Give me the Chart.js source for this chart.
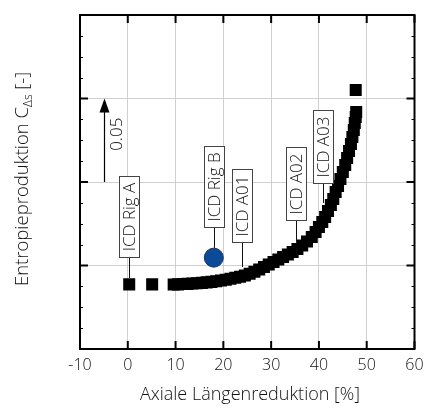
<!DOCTYPE html>
<html>
<head>
<meta charset="utf-8">
<script src="https://cdn.jsdelivr.net/npm/chart.js@4"></script>
<style>
  html, body { margin: 0; padding: 0; background: #fff; }
</style>
</head>
<body>
<canvas id="myChart" width="425" height="412"></canvas>
<script>
"use strict";

// Varianten: axiale Längenreduktion [%] und Entropieproduktion C_Δs
const variantX = [
	0.3, 5.1,
	9.6, 10.5, 11.5, 12.5, 13.5, 14.5, 15.5, 16.5, 17.5, 18.5,
	19.5, 20.5, 21.5, 22.5, 23.5, 24.5, 25.5, 26.5, 27.5, 28.5,
	29.5, 30.5, 31.5, 32.5, 33.5, 34.5, 35.5, 36.5, 37.5, 38.5,
	39.3, 40, 40.7, 41.3, 41.9, 42.5, 43, 43.5, 44, 44.5,
	45, 45.5, 45.9, 46.3, 46.7, 47, 47.3, 47.5, 47.7, 47.8,
	47.7
];
const variantCds = [
	0.0387, 0.0387,
	0.0386, 0.0387, 0.0389, 0.0390, 0.0392, 0.0394, 0.0396, 0.0399, 0.0402, 0.0406,
	0.0410, 0.0415, 0.0420, 0.0426, 0.0432, 0.0440, 0.0450, 0.0462, 0.0476, 0.0491,
	0.0506, 0.0521, 0.0536, 0.0551, 0.0566, 0.0581, 0.0599, 0.0620, 0.0644, 0.0671,
	0.0701, 0.0731, 0.0760, 0.0790, 0.0826, 0.0862, 0.0898, 0.0940, 0.0976, 0.1018,
	0.1060, 0.1102, 0.1144, 0.1186, 0.1228, 0.1269, 0.1311, 0.1353, 0.1389, 0.1419,
	0.1551
];

// ICD Rig B
const rigBX = [18];
const rigBCds = [0.0547];

// Achsen
const xTicks = [-10, 0, 10, 20, 30, 40, 50, 60];
const yTicks = [0, 0.05, 0.1, 0.15, 0.2];

// Beschriftete Konfigurationen
const calloutNames = ["ICD Rig A", "ICD Rig B", "ICD A01", "ICD A02", "ICD A03"];
const calloutX = [0.3, 18, 24, 35.1, 40.9];
const calloutLineEnd = [0.0425, 0.0605, 0.0491, 0.0643, 0.0874];
const calloutBoxBottom = [0.0553, 0.0729, 0.0639, 0.0772, 0.0996];

// Maßpfeil für den Gitterabstand
const scaleBarX = -5;
const scaleBarFrom = 0.1;
const scaleBarTo = 0.15;

const FONT = "'Open Sans', 'Noto Sans', sans-serif";
const TEXT = "#111";
const W = "300 ";

const callouts = {
	id: "callouts",
	afterDatasetsDraw(chart) {
		const { ctx, scales: { x, y } } = chart;
		ctx.save();
		ctx.font = W + "17px " + FONT;
		calloutNames.forEach(function (name, i) {
			const px = Math.round(x.getPixelForValue(calloutX[i])) + 0.5;
			const yEnd = y.getPixelForValue(calloutLineEnd[i]);
			const yBox = Math.round(y.getPixelForValue(calloutBoxBottom[i])) + 0.5;
			const h = Math.round(ctx.measureText(name).width + 12);

			ctx.strokeStyle = "#111";
			ctx.lineWidth = 1;
			ctx.beginPath();
			ctx.moveTo(px, yBox);
			ctx.lineTo(px, yEnd);
			ctx.stroke();

			ctx.fillStyle = "#fff";
			ctx.fillRect(px - 10, yBox - h, 20, h);
			ctx.strokeStyle = "#444";
			ctx.strokeRect(px - 10, yBox - h, 20, h);

			ctx.save();
			ctx.translate(px, yBox - h / 2);
			ctx.rotate(-Math.PI / 2);
			ctx.fillStyle = TEXT;
			ctx.textAlign = "center";
			ctx.textBaseline = "middle";
			ctx.fillText(name, 0, 1);
			ctx.restore();
		});

		// Pfeil 0.05
		const ax = Math.round(x.getPixelForValue(scaleBarX)) + 0.5;
		const y0 = y.getPixelForValue(scaleBarFrom);
		const y1 = y.getPixelForValue(scaleBarTo);
		ctx.strokeStyle = "#000";
		ctx.lineWidth = 1.2;
		ctx.beginPath();
		ctx.moveTo(ax, y0);
		ctx.lineTo(ax, y1 + 12);
		ctx.stroke();
		ctx.fillStyle = "#000";
		ctx.beginPath();
		ctx.moveTo(ax, y1);
		ctx.lineTo(ax - 5, y1 + 14);
		ctx.lineTo(ax + 5, y1 + 14);
		ctx.closePath();
		ctx.fill();

		ctx.save();
		ctx.translate(ax + 17, (y0 + y1) / 2 - 6);
		ctx.rotate(-Math.PI / 2);
		ctx.fillStyle = TEXT;
		ctx.textAlign = "center";
		ctx.textBaseline = "alphabetic";
		ctx.fillText((scaleBarTo - scaleBarFrom).toFixed(2), 0, 0);
		ctx.restore();
		ctx.restore();
	}
};

const frame = {
	id: "frame",
	afterDraw(chart) {
		const { ctx, chartArea: a, scales: { x, y } } = chart;
		ctx.save();
		ctx.strokeStyle = "#000";
		ctx.lineWidth = 2;
		ctx.strokeRect(a.left, a.top, a.right - a.left, a.bottom - a.top);

		ctx.beginPath();
		xTicks.forEach(function (v) {
			const px = x.getPixelForValue(v);
			ctx.moveTo(px, a.bottom);
			ctx.lineTo(px, a.bottom - 8);
			ctx.moveTo(px, a.top);
			ctx.lineTo(px, a.top + 8);
		});
		yTicks.forEach(function (v) {
			const py = y.getPixelForValue(v);
			ctx.moveTo(a.left, py);
			ctx.lineTo(a.left + 8, py);
			ctx.moveTo(a.right, py);
			ctx.lineTo(a.right - 8, py);
		});
		ctx.stroke();

		// Nebenteilung der y-Achse
		ctx.lineWidth = 1;
		ctx.beginPath();
		for (let i = 0; i < yTicks.length - 1; i++) {
			for (let k = 1; k < 4; k++) {
				const v = yTicks[i] + (yTicks[i + 1] - yTicks[i]) * k / 4;
				const py = Math.round(y.getPixelForValue(v)) + 0.5;
				ctx.moveTo(a.left, py);
				ctx.lineTo(a.left + 3, py);
				ctx.moveTo(a.right, py);
				ctx.lineTo(a.right - 3, py);
			}
		}
		ctx.stroke();

		// Achsentitel
		ctx.fillStyle = TEXT;
		ctx.font = W + "18px " + FONT;
		ctx.textAlign = "center";
		ctx.textBaseline = "alphabetic";
		ctx.fillText("Axiale Längenreduktion [%]", 250, 400);

		const main = "Entropieproduktion C";
		const sub = "Δs";
		const tail = " [-]";
		ctx.font = W + "18.5px " + FONT;
		const wMain = ctx.measureText(main).width;
		const wTail = ctx.measureText(tail).width;
		ctx.font = W + "12px " + FONT;
		const wSub = ctx.measureText(sub).width;
		const total = wMain + wSub + wTail;

		ctx.save();
		ctx.translate(28, 179);
		ctx.rotate(-Math.PI / 2);
		ctx.textAlign = "left";
		let cx = -total / 2;
		ctx.font = W + "18.5px " + FONT;
		ctx.fillText(main, cx, 0);
		cx += wMain;
		ctx.font = W + "12px " + FONT;
		ctx.fillText(sub, cx, 4);
		cx += wSub;
		ctx.font = W + "18.5px " + FONT;
		ctx.fillText(tail, cx, 0);
		ctx.restore();
		ctx.restore();
	}
};

function toPoints(xs, ys) {
	return xs.map(function (v, i) {
		return { x: v, y: ys[i] };
	});
}

const ctx = document.getElementById("myChart");

new Chart(ctx, {
	type: "scatter",
	data: {
		datasets: [
			{
				label: "Varianten",
				data: toPoints(variantX, variantCds),
				pointStyle: "rect",
				pointRadius: 8.5,
				borderWidth: 0,
				backgroundColor: "#000",
			},
			{
				label: "ICD Rig B",
				data: toPoints(rigBX, rigBCds),
				pointStyle: "circle",
				pointRadius: 9.5,
				borderWidth: 1,
				borderColor: "#18305a",
				backgroundColor: "#0b4a98",
			},
		],
	},
	options: {
		responsive: false,
		animation: false,
		devicePixelRatio: 1,
		layout: { padding: { left: 0, right: 10, top: 15, bottom: 0 } },
		plugins: {
			legend: { display: false },
			tooltip: { enabled: false },
		},
		scales: {
			x: {
				type: "linear",
				min: -10,
				max: 60,
				afterBuildTicks: function (s) {
					s.ticks = xTicks.map(function (v) { return { value: v }; });
				},
				afterFit: function (s) {
					s.height = 63;
					s.paddingLeft = 0;
					s.paddingRight = 0;
				},
				grid: { color: "#d0d0d0", lineWidth: 1, drawTicks: false },
				border: { display: false },
				ticks: {
					color: TEXT,
					font: { family: FONT, size: 16, weight: "300" },
					padding: 7,
					maxRotation: 0,
				},
			},
			y: {
				type: "linear",
				min: 0,
				max: 0.2,
				afterBuildTicks: function (s) {
					s.ticks = yTicks.map(function (v) { return { value: v }; });
				},
				afterFit: function (s) {
					s.width = 80;
				},
				grid: { color: "#d0d0d0", lineWidth: 1, drawTicks: false },
				border: { display: false },
				ticks: { display: false },
			},
		},
	},
	plugins: [callouts, frame],
});
</script>
</body>
</html>
